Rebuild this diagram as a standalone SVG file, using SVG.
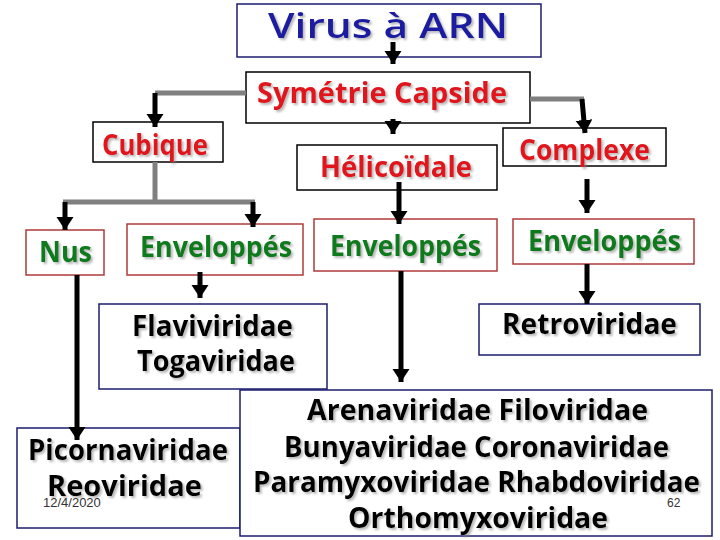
<svg xmlns="http://www.w3.org/2000/svg" width="720" height="540" viewBox="0 0 720 540">
<defs>
<filter id="sh" x="-10%" y="-30%" width="120%" height="160%">
<feDropShadow dx="2" dy="2" stdDeviation="0.8" flood-color="#808080" flood-opacity="0.55"/>
</filter>
<marker id="ah" markerUnits="userSpaceOnUse" markerWidth="14" markerHeight="18" refX="13" refY="8.5" orient="auto">
<path d="M0,0 L13,8.5 L0,17 z" fill="#000"/>
</marker>
</defs>
<style>
rect{fill:#fff;stroke-width:1.5}
.k{stroke:#000}
.n{stroke:#1c1c6c}
.r{stroke:#b03a3a}
text{font-family:"Open Sans","DejaVu Sans","Liberation Sans",sans-serif;font-weight:700;filter:url(#sh)}
.t{font-size:34px;fill:#1f1fa0;font-weight:600}
.red{font-size:29px;fill:#e0141e}
.grn{font-size:29px;fill:#0b7a1c}
.blk{font-size:28px;fill:#000}
.g{fill:none;stroke:#808080;stroke-width:5}
.a{fill:none;stroke:#000;stroke-width:5;marker-end:url(#ah)}
.sm{font-family:"Liberation Sans",Arial,sans-serif;font-weight:normal;fill:#333;filter:none}
</style>
<rect width="720" height="540" style="fill:#fff;stroke:none"/>
<g id="virus"><rect class="n" x="237" y="4" width="304" height="53"/><text class="t" x="268" y="38" textLength="240" lengthAdjust="spacingAndGlyphs">Virus à ARN</text></g>
<g id="symetrie"><rect class="k" x="246" y="72" width="284" height="51"/><text class="red" x="257" y="103" textLength="250" lengthAdjust="spacingAndGlyphs">Symétrie Capside</text></g>
<g id="cubique"><rect class="k" x="93" y="122" width="130" height="40"/><text class="red" x="102" y="155" textLength="106" lengthAdjust="spacingAndGlyphs">Cubique</text></g>
<g id="helicoidale"><rect class="k" x="297" y="145" width="200" height="45"/><text class="red" x="320" y="177" textLength="152" lengthAdjust="spacingAndGlyphs">Hélicoïdale</text></g>
<g id="complexe"><rect class="k" x="503" y="128" width="163" height="38"/><text class="red" x="519" y="160" textLength="131" lengthAdjust="spacingAndGlyphs">Complexe</text></g>
<g id="nus"><rect class="r" x="26" y="230" width="78" height="45"/><text class="grn" x="39" y="262" textLength="53" lengthAdjust="spacingAndGlyphs">Nus</text></g>
<g id="env1"><rect class="r" x="127" y="224" width="176" height="51"/><text class="grn" x="140" y="257" textLength="152" lengthAdjust="spacingAndGlyphs">Enveloppés</text></g>
<g id="env2"><rect class="r" x="314" y="219" width="183" height="52"/><text class="grn" x="330" y="256" textLength="151" lengthAdjust="spacingAndGlyphs">Enveloppés</text></g>
<g id="env3"><rect class="r" x="513" y="219" width="181" height="45"/><text class="grn" x="528" y="251" textLength="153" lengthAdjust="spacingAndGlyphs">Enveloppés</text></g>
<g id="flavi"><rect class="n" x="99" y="304" width="228" height="85"/><text class="blk" x="132" y="336" textLength="161" lengthAdjust="spacingAndGlyphs">Flaviviridae</text><text class="blk" x="137" y="371" textLength="158" lengthAdjust="spacingAndGlyphs">Togaviridae</text></g>
<g id="retro"><rect class="n" x="479" y="304" width="221" height="51"/><text class="blk" x="502" y="334" textLength="175" lengthAdjust="spacingAndGlyphs">Retroviridae</text></g>
<g id="picorna"><rect class="n" x="17" y="428" width="223" height="100"/><text class="blk" x="28" y="460" textLength="200" lengthAdjust="spacingAndGlyphs">Picornaviridae</text><text class="blk" x="47" y="496" textLength="155" lengthAdjust="spacingAndGlyphs">Reoviridae</text></g>
<g id="big"><rect class="n" x="240" y="390" width="472" height="146"/><text class="blk" x="307" y="420" textLength="341" lengthAdjust="spacingAndGlyphs">Arenaviridae Filoviridae</text><text class="blk" x="284" y="457" textLength="385" lengthAdjust="spacingAndGlyphs">Bunyaviridae Coronaviridae</text><text class="blk" x="253" y="492" textLength="447" lengthAdjust="spacingAndGlyphs">Paramyxoviridae Rhabdoviridae</text><text class="blk" x="348" y="528" textLength="260" lengthAdjust="spacingAndGlyphs">Orthomyxoviridae</text></g>
<g id="connectors">
<polyline class="g" points="246,93 155,93"/>
<polyline class="g" points="530,99 584,99"/>
<polyline class="g" points="155,162 155,202"/>
<polyline class="g" points="63,202 255,202"/>
<line class="a" x1="393" y1="42" x2="393" y2="64"/>
<line class="a" x1="393" y1="119" x2="393" y2="134"/>
<line class="a" x1="155" y1="93" x2="155" y2="127"/>
<line class="a" x1="582" y1="99" x2="585" y2="133"/>
<line class="a" x1="65" y1="202" x2="65" y2="230"/>
<line class="a" x1="253" y1="202" x2="253" y2="227"/>
<line class="a" x1="399" y1="182" x2="399" y2="224"/>
<line class="a" x1="587" y1="179" x2="587" y2="213"/>
<line class="a" x1="200" y1="272" x2="200" y2="298"/>
<line class="a" x1="77" y1="275" x2="77" y2="440"/>
<line class="a" x1="401" y1="271" x2="401" y2="382"/>
<line class="a" x1="587" y1="264" x2="587" y2="304"/>
</g>
<text class="sm" x="43" y="507" font-size="13">12/4/2020</text>
<text class="sm" x="667" y="507" font-size="12">62</text>
</svg>
